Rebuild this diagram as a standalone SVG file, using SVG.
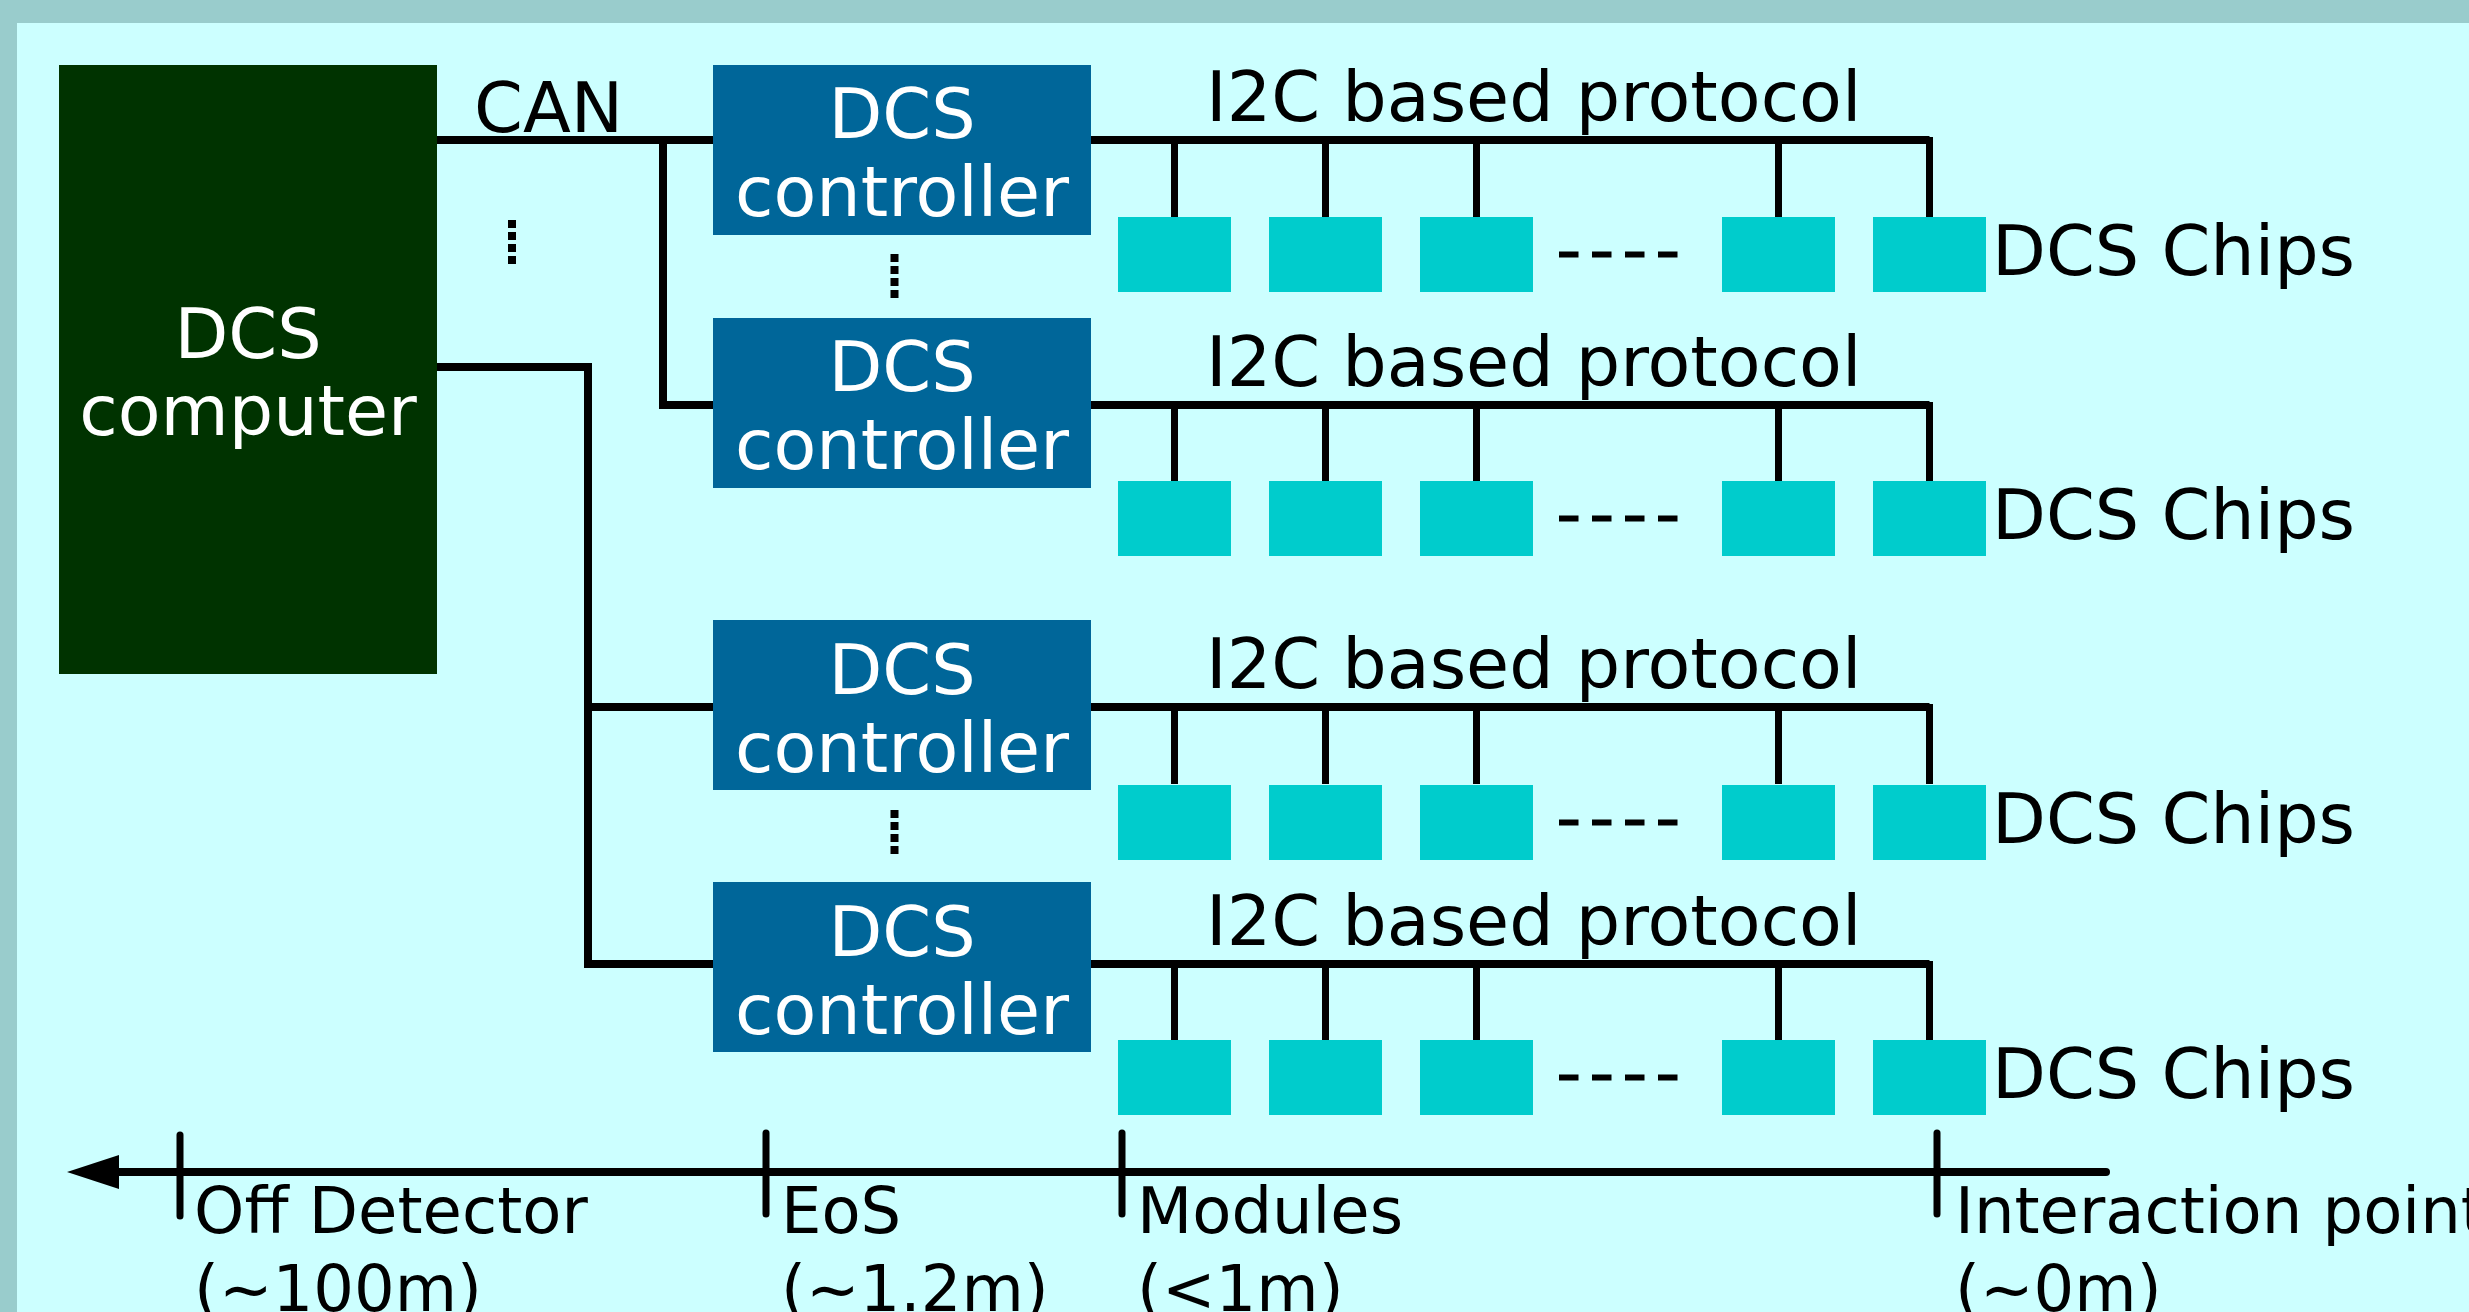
<svg xmlns="http://www.w3.org/2000/svg" width="2469" height="1312" viewBox="0 0 2469 1312">
<style>
.t{font-family:"DejaVu Sans","Noto Sans",sans-serif;font-size:70px;fill:#000}
.w{font-family:"DejaVu Sans","Noto Sans",sans-serif;font-size:70px;fill:#fff;text-anchor:middle}
.s{font-family:"DejaVu Sans","Noto Sans",sans-serif;font-size:64px;fill:#000}
.ctl{fill:#006699}
.chip{fill:#00CCCC}
.ln{stroke:#000;stroke-width:8;fill:none}
.dr{stroke:#000;stroke-width:7;fill:none}
.dots{stroke:#000;stroke-width:8;stroke-dasharray:8 4;fill:none}
.dash{stroke:#000;stroke-width:6;stroke-dasharray:19.5 13.5;fill:none}
.tick{stroke:#000;stroke-width:7;stroke-linecap:round;fill:none}
</style>
<defs>
<g id="chiprow">
<rect class="chip" x="1118" y="0" width="113" height="75"/>
<rect class="chip" x="1269" y="0" width="113" height="75"/>
<rect class="chip" x="1420" y="0" width="113" height="75"/>
<rect class="chip" x="1722" y="0" width="113" height="75"/>
<rect class="chip" x="1873" y="0" width="113" height="75"/>
<line class="dash" x1="1559" y1="37.5" x2="1678" y2="37.5"/>
<text class="t" x="1992" y="58">DCS Chips</text>
</g>
<g id="bus">
<line class="ln" x1="1091" y1="0" x2="1929.5" y2="0"/>
<line class="dr" x1="1174.5" y1="0" x2="1174.5" y2="77"/>
<line class="dr" x1="1325.5" y1="0" x2="1325.5" y2="77"/>
<line class="dr" x1="1476.5" y1="0" x2="1476.5" y2="77"/>
<line class="dr" x1="1778.5" y1="0" x2="1778.5" y2="77"/>
<line class="dr" x1="1929.5" y1="-3" x2="1929.5" y2="77"/>
<text class="t" x="1206" y="-19">I2C based protocol</text>
</g>
</defs>
<rect x="0" y="0" width="2469" height="1312" fill="#99CCCC"/>
<rect x="17" y="23" width="2452" height="1289" fill="#CCFFFF"/>

<g id="connectors">
<line class="ln" x1="437" y1="140" x2="713" y2="140"/>
<polyline class="ln" points="663,140 663,405 713,405"/>
<polyline class="ln" points="437,367 588,367 588,964 713,964"/>
<line class="ln" x1="588" y1="707" x2="713" y2="707"/>
<use href="#bus" transform="translate(0,140)"/>
<use href="#bus" transform="translate(0,405)"/>
<use href="#bus" transform="translate(0,707)"/>
<use href="#bus" transform="translate(0,964)"/>
<line class="dots" x1="512" y1="220" x2="512" y2="264"/>
<line class="dots" x1="894.5" y1="254" x2="894.5" y2="298"/>
<line class="dots" x1="894.5" y1="810" x2="894.5" y2="854"/>
</g>

<g id="computer">
<rect x="59" y="65" width="378" height="609" fill="#003300"/>
<text class="w" x="248" y="358">DCS</text>
<text class="w" x="248" y="435">computer</text>
</g>
<text class="t" x="474" y="132">CAN</text>

<g id="controller1">
<rect class="ctl" x="713" y="65" width="378" height="170"/>
<text class="w" x="902" y="138">DCS</text>
<text class="w" x="902" y="216">controller</text>
</g>
<g id="controller2">
<rect class="ctl" x="713" y="318" width="378" height="170"/>
<text class="w" x="902" y="391">DCS</text>
<text class="w" x="902" y="469">controller</text>
</g>
<g id="controller3">
<rect class="ctl" x="713" y="620" width="378" height="170"/>
<text class="w" x="902" y="694">DCS</text>
<text class="w" x="902" y="772">controller</text>
</g>
<g id="controller4">
<rect class="ctl" x="713" y="882" width="378" height="170"/>
<text class="w" x="902" y="956">DCS</text>
<text class="w" x="902" y="1034">controller</text>
</g>

<g id="chips1"><use href="#chiprow" transform="translate(0,217)"/></g>
<g id="chips2"><use href="#chiprow" transform="translate(0,481)"/></g>
<g id="chips3"><use href="#chiprow" transform="translate(0,785)"/></g>
<g id="chips4"><use href="#chiprow" transform="translate(0,1040)"/></g>

<g id="timeline">
<line x1="115" y1="1172" x2="2106" y2="1172" stroke="#000" stroke-width="8" stroke-linecap="round"/>
<polygon points="67,1172 119,1155 119,1189" fill="#000"/>
<line class="tick" x1="180" y1="1135" x2="180" y2="1216"/>
<line class="tick" x1="766" y1="1133" x2="766" y2="1214"/>
<line class="tick" x1="1122" y1="1133" x2="1122" y2="1214"/>
<line class="tick" x1="1937" y1="1133" x2="1937" y2="1214"/>
<text class="s" x="194" y="1233">Off Detector</text>
<text class="s" x="194" y="1311">(~100m)</text>
<text class="s" x="781" y="1233">EoS</text>
<text class="s" x="781" y="1311">(~1.2m)</text>
<text class="s" x="1137" y="1233">Modules</text>
<text class="s" x="1137" y="1311">(&lt;1m)</text>
<text class="s" x="1955" y="1233">Interaction point</text>
<text class="s" x="1955" y="1311">(~0m)</text>
</g>
</svg>
